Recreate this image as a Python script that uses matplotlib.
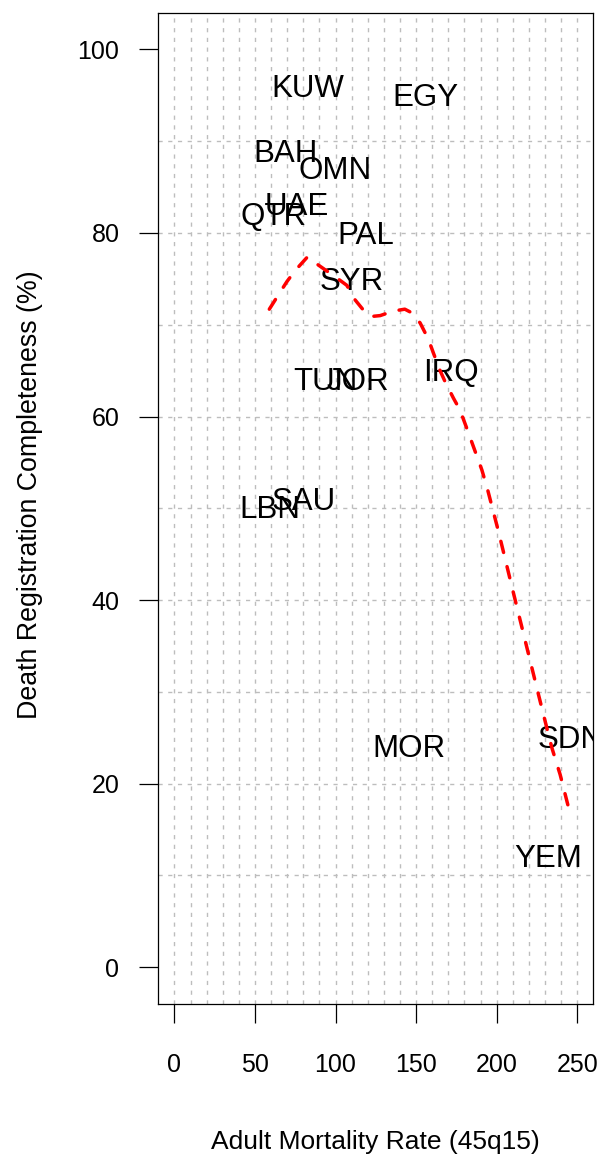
import matplotlib
matplotlib.use("Agg")
import matplotlib.pyplot as plt

# Country labels (text placed at data coordinates)
countries = ["KUW", "EGY", "BAH", "OMN", "UAE", "QTR", "PAL", "SYR",
             "TUN", "JOR", "IRQ", "SAU", "LBN", "MOR", "SDN", "YEM"]
adult_mortality = [82.7, 156.1, 68.9, 100.0, 76.0, 61.3, 118.6, 110.3,
                   93.5, 114.0, 171.8, 80.5, 58.9, 145.6, 246.0, 231.8]
completeness = [95.7, 94.7, 88.6, 86.8, 82.8, 81.7, 79.7, 74.7,
                63.8, 63.8, 64.8, 50.7, 49.8, 23.8, 24.8, 11.8]

# Smoothed trend curve
trend_x = [58.9, 63.6, 69.8, 74.9, 82.6, 89.4, 100.0, 107.0, 112.2, 117.3,
           122.0, 127.7, 136.0, 143.0, 147.4, 152.5, 157.7, 160.8, 164.9,
           168.0, 173.2, 177.3, 181.5, 190.8, 194.3, 201.1, 210.4, 219.8,
           225.0, 229.1, 234.3, 239.4, 245.5]
trend_y = [71.7, 73.0, 74.7, 75.9, 77.4, 76.5, 75.2, 74.3, 72.7, 71.6,
           70.9, 71.0, 71.5, 71.7, 71.3, 70.2, 68.4, 66.9, 65.0,
           63.8, 62.0, 60.7, 58.7, 54.2, 52.1, 47.5, 40.8, 34.1,
           30.4, 27.5, 23.9, 21.0, 16.8]

x_ticks = [0, 50, 100, 150, 200, 250]
y_ticks = [0, 20, 40, 60, 80, 100]
v_grid = list(range(0, 251, 10))
h_grid = list(range(10, 91, 10))

plt.rcParams['font.family'] = ['Liberation Sans', 'DejaVu Sans']

fig = plt.figure(figsize=(5.99, 11.56), dpi=100)
ax = fig.add_axes([0.2643, 0.1315, 0.7262, 0.8575])
ax.set_xlim(-10, 260)
ax.set_ylim(-4, 104)

grid_kw = dict(color='#bdbdbd', linewidth=1.0, linestyle=(0, (3, 4)), zorder=0)
for gx in v_grid:
    ax.axvline(gx, **grid_kw)
for gy in h_grid:
    ax.axhline(gy, **grid_kw)

for name, xv, yv in zip(countries, adult_mortality, completeness):
    ax.text(xv, yv, name, ha='center', va='center', fontsize=22.5,
            color='black', zorder=3, clip_on=True)

ax.plot(trend_x, trend_y, color='#ff0000', linewidth=2.5,
        linestyle=(0, (3.3, 4.2)), dash_capstyle='round',
        solid_capstyle='round', zorder=4)

for s in ax.spines.values():
    s.set_linewidth(0.9)
    s.set_color('black')

ax.set_xticks(x_ticks)
ax.set_yticks(y_ticks)
ax.set_xticklabels([str(t) for t in x_ticks])
ax.set_yticklabels([str(t) for t in y_ticks])
ax.tick_params(axis='x', length=14, width=0.9, pad=21, labelsize=18)
ax.tick_params(axis='y', length=14, width=0.9, pad=14, labelsize=18)

fig.text(375.8 / 599, 1 - 1141.7 / 1156, "Adult Mortality Rate (45q15)",
         ha='center', va='center', fontsize=19)
fig.text(30 / 599, 1 - 495 / 1156, "Death Registration Completeness (%)",
         ha='center', va='center', rotation=90, fontsize=19.3)

fig.savefig("out.png", dpi=100)
